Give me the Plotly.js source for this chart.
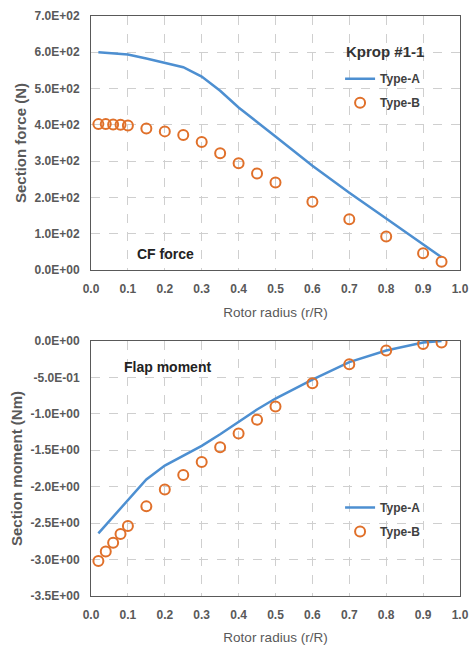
<!DOCTYPE html>
<html>
<head>
<meta charset="utf-8">
<script src="https://cdn.plot.ly/plotly-3.0.1.min.js"></script>
<style>html,body{margin:0;padding:0;background:#fff;}#chart{width:469px;height:651px;}</style>
</head>
<body>
<div id="chart"></div>
<script>
// ---- data ----
const radiusA = [0.02, 0.1, 0.15, 0.2, 0.25, 0.3, 0.35, 0.4, 0.45, 0.5, 0.6, 0.7, 0.8, 0.9, 0.95];
const forceA  = [600, 594, 583, 572, 559, 533, 494, 448, 407, 368, 287, 213, 142, 70, 35];
const momentA = [-2.64, -2.18, -1.90, -1.71, -1.57, -1.44, -1.28, -1.11, -0.94, -0.79, -0.53, -0.29, -0.13, -0.02, 0.0];

const radiusB = [0.02, 0.04, 0.06, 0.08, 0.1, 0.15, 0.2, 0.25, 0.3, 0.35, 0.4, 0.45, 0.5, 0.6, 0.7, 0.8, 0.9, 0.95];
const forceB  = [402, 402, 401, 400, 398, 390, 382, 372, 353, 322, 294, 266, 241, 188, 140, 92, 46, 23];
const momentB = [-3.02, -2.89, -2.77, -2.65, -2.54, -2.27, -2.04, -1.84, -1.66, -1.46, -1.27, -1.08, -0.90, -0.58, -0.32, -0.13, -0.04, -0.02];

const xTickVals = [0, 0.1, 0.2, 0.3, 0.4, 0.5, 0.6, 0.7, 0.8, 0.9, 1.0];
const xTickText = ['0.0','0.1','0.2','0.3','0.4','0.5','0.6','0.7','0.8','0.9','1.0'];
const forceTickVals = [0, 100, 200, 300, 400, 500, 600, 700];
const forceTickText = ['0.0E+00','1.0E+02','2.0E+02','3.0E+02','4.0E+02','5.0E+02','6.0E+02','7.0E+02'];
const momentTickVals = [0, -0.5, -1.0, -1.5, -2.0, -2.5, -3.0, -3.5];
const momentTickText = ['0.0E+00','-5.0E-01','-1.0E+00','-1.5E+00','-2.0E+00','-2.5E+00','-3.0E+00','-3.5E+00'];

// ---- styles ----
const blue = '#4d8fd1';
const orange = '#e0702a';
const grey = '#595959';
const FONT = '"Liberation Sans", Arial, sans-serif';
const NB = '\u00a0';

const lineStyle = {color: blue, width: 2.5};
const markerStyle = {symbol: 'circle-open', size: 10, color: orange, line: {width: 2, color: orange}};

const traces = [
  {x: radiusA, y: forceA, type: 'scatter', mode: 'lines', name: 'Type-A', line: lineStyle,
   xaxis: 'x', yaxis: 'y', legend: 'legend', legendgroup: 'a1'},
  {x: radiusB, y: forceB, type: 'scatter', mode: 'markers', name: 'Type-B', marker: markerStyle,
   xaxis: 'x', yaxis: 'y', legend: 'legend', legendgroup: 'b1'},
  {x: radiusA, y: momentA, type: 'scatter', mode: 'lines', name: 'Type-A', line: lineStyle,
   xaxis: 'x2', yaxis: 'y2', legend: 'legend2', legendgroup: 'a2'},
  {x: radiusB, y: momentB, type: 'scatter', mode: 'markers', name: 'Type-B', marker: markerStyle,
   xaxis: 'x2', yaxis: 'y2', legend: 'legend2', legendgroup: 'b2'}
];

const xTitleFont = {family: FONT, size: 13.5, color: grey};
const xCommon = {
  range: [0, 1], tickmode: 'array', tickvals: xTickVals, ticktext: xTickText,
  showgrid: true, gridcolor: '#cfcfcf', griddash: 'dash', gridwidth: 1,
  showline: true, mirror: true, linecolor: grey, linewidth: 1,
  zeroline: false, ticks: '', ticklabelstandoff: 8,
  tickfont: {family: FONT, size: 12, color: grey, weight: 'bold'}
};
const yCommon = {
  showgrid: true, gridcolor: '#cfcfcf', griddash: 'dash', gridwidth: 1,
  showline: true, mirror: true, linecolor: grey, linewidth: 1,
  zeroline: false, ticks: '', ticklabelstandoff: 8,
  tickfont: {family: FONT, size: 12, color: grey, weight: 'bold'}
};
const yTitleFont = {family: FONT, size: 15, color: grey, weight: 'bold'};

const legendCommon = {
  bgcolor: 'rgba(0,0,0,0)', borderwidth: 0, itemwidth: 30,
  font: {family: FONT, size: 12, color: '#404040', weight: 'bold'},
  tracegroupgap: 5, traceorder: 'grouped', xanchor: 'left', yanchor: 'top'
};

const layout = {
  width: 469, height: 651,
  margin: {l: 91, r: 9, t: 16, b: 55},
  paper_bgcolor: '#ffffff', plot_bgcolor: '#ffffff',
  font: {family: FONT, color: grey},
  showlegend: true,
  xaxis: Object.assign({}, xCommon, {anchor: 'y',
    title: {text: 'Rotor radius (r/R)', font: xTitleFont, standoff: 12}}),
  yaxis: Object.assign({}, yCommon, {
    domain: [0.5621, 1], range: [0, 700], tickmode: 'array',
    tickvals: forceTickVals, ticktext: forceTickText,
    title: {text: 'Section force (N)', font: yTitleFont, standoff: 4}
  }),
  xaxis2: Object.assign({}, xCommon, {anchor: 'y2',
    title: {text: 'Rotor radius (r/R)', font: xTitleFont, standoff: 11}}),
  yaxis2: Object.assign({}, yCommon, {
    domain: [0, 0.4397], range: [-3.5, 0], tickmode: 'array',
    tickvals: momentTickVals, ticktext: momentTickText,
    title: {text: 'Section moment (Nm)' + NB.repeat(7), font: yTitleFont, standoff: 4}
  }),
  legend: Object.assign({}, legendCommon, {x: 0.675, y: 0.917}),
  legend2: Object.assign({}, legendCommon, {x: 0.675, y: 0.1776}),
  annotations: [
    {text: 'Kprop #1-1', xref: 'paper', yref: 'paper', x: 0.797, y: 0.938,
     xanchor: 'center', yanchor: 'middle', showarrow: false,
     font: {family: FONT, size: 15, color: '#333333', weight: 'bold'}},
    {text: 'CF force', xref: 'x', yref: 'y', x: 0.203, y: 44, showarrow: false,
     font: {family: FONT, size: 14, color: '#222222', weight: 'bold'}},
    {text: 'Flap moment', xref: 'x2', yref: 'y2', x: 0.207, y: -0.356, showarrow: false,
     font: {family: FONT, size: 14, color: '#222222', weight: 'bold'}}
  ]
};

Plotly.newPlot('chart', traces, layout, {displayModeBar: false, staticPlot: true});
</script>
</body>
</html>
